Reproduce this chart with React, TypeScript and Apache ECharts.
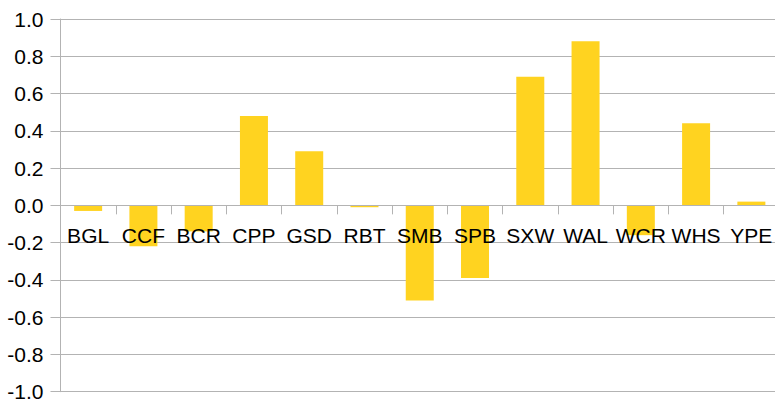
import React, { useEffect, useRef } from "react";
import * as echarts from "echarts";

const categories = ["BGL", "CCF", "BCR", "CPP", "GSD", "RBT", "SMB", "SPB", "SXW", "WAL", "WCR", "WHS", "YPE"];
const values = [-0.03, -0.22, -0.14, 0.48, 0.29, -0.01, -0.51, -0.39, 0.69, 0.88, -0.16, 0.44, 0.02];

const GRID_TOP = 19;
const GRID_BOTTOM = 11.3;
const CHART_H = 403;

export default function App() {
  const ref = useRef<HTMLDivElement>(null);
  useEffect(() => {
    const chart = echarts.init(ref.current!, null, { renderer: "svg" });
    const plotH = CHART_H - GRID_TOP - GRID_BOTTOM;
    chart.setOption({
      animation: false,
      backgroundColor: "#ffffff",
      grid: { left: 60.5, right: -4, top: GRID_TOP, bottom: GRID_BOTTOM, containLabel: false, outerBoundsMode: "none" },
      xAxis: {
        type: "category",
        data: categories,
        position: "bottom",
        offset: -plotH / 2,
        boundaryGap: true,
        axisLine: { onZero: false, lineStyle: { color: "#b3b3b3", width: 1 } },
        axisTick: { show: true, length: 9, lineStyle: { color: "#b3b3b3" } },
        axisLabel: { color: "#000000", fontSize: 21, fontFamily: "Liberation Sans", margin: 20, interval: 0 },
        z: 3,
      },
      yAxis: {
        type: "value",
        min: -1,
        max: 1,
        interval: 0.2,
        axisLine: { show: true, lineStyle: { color: "#b3b3b3", width: 1 } },
        axisTick: { show: true, length: 10, lineStyle: { color: "#b3b3b3" } },
        axisLabel: {
          color: "#000000",
          fontSize: 21,
          fontFamily: "Liberation Sans",
          margin: 17,
          formatter: (v: number) => v.toFixed(1),
        },
        splitLine: { show: true, lineStyle: { color: "#b3b3b3", width: 1 } },
      },
      series: [
        {
          type: "bar",
          data: values,
          barWidth: 28,
          itemStyle: { color: "#ffd320" },
          z: 2,
        },
      ],
    });
    return () => chart.dispose();
  }, []);
  return <div ref={ref} style={{ width: 775, height: 403, position: "absolute", left: 0, top: 0 }} />;
}
